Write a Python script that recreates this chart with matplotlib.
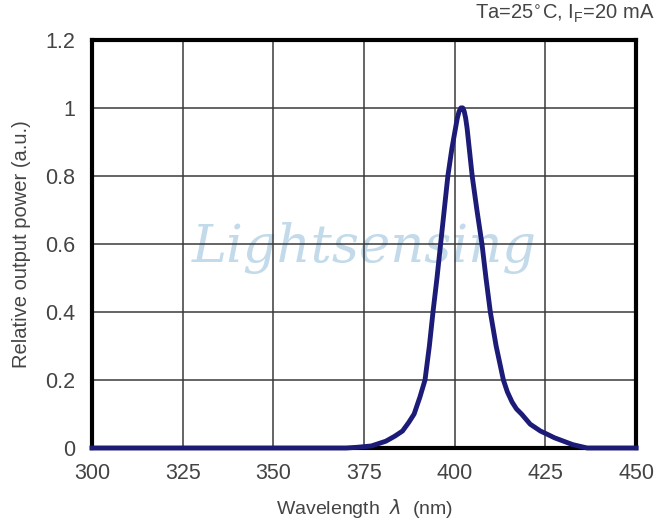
import numpy as np
import matplotlib.pyplot as plt

# spectrum (wavelength in nm, relative power)
wavelength = [300, 340, 370, 373, 377, 381, 383.5, 385.6, 387.3, 388.8, 390.4, 391.8,
              393.0, 394.0, 395.1, 396.1, 397.1, 398.1, 399.2, 400.2, 400.7, 401.2, 401.7,
              402.2, 402.6, 403.0, 403.4, 404.1, 404.8, 406.1, 407.5, 408.6, 409.8, 411.4,
              412.4, 413.4, 414.5, 415.8, 417.0, 418.4, 420.8, 423.6, 425.0, 427.5, 430.0,
              432.5, 436.5, 440, 450]
power = [0, 0, 0, 0.002, 0.006, 0.02, 0.035, 0.05, 0.075, 0.10, 0.15, 0.20,
         0.30, 0.40, 0.50, 0.60, 0.70, 0.80, 0.88, 0.94, 0.97, 0.99, 1.0,
         1.0, 0.99, 0.97, 0.94, 0.87, 0.80, 0.70, 0.60, 0.50, 0.40, 0.30,
         0.25, 0.20, 0.165, 0.135, 0.115, 0.10, 0.07, 0.05, 0.043, 0.03, 0.02,
         0.01, 0.0, 0, 0]

xticks = [300, 325, 350, 375, 400, 425, 450]
yticks = [0, 0.2, 0.4, 0.6, 0.8, 1.0, 1.2]
ytick_labels = ['0', '0.2', '0.4', '0.6', '0.8', '1', '1.2']

plt.rcParams['font.family'] = ['Liberation Sans', 'DejaVu Sans']

fig = plt.figure(figsize=(6.58, 5.28), dpi=100)
ax = fig.add_axes([0.1398, 0.1515, 0.827, 0.773])

ax.plot(wavelength, power, color='#1c1c78', lw=3.5, zorder=3, clip_on=False,
        solid_joinstyle='round')

ax.set_xlim(300, 450)
ax.set_ylim(0, 1.2)
ax.set_xticks(xticks)
ax.set_yticks(yticks)
ax.set_yticklabels(ytick_labels)
ax.grid(True, color='#3a3a3a', lw=1.1)
ax.tick_params(length=0, labelsize=15.5, labelcolor='#444444')
ax.tick_params(axis='x', pad=11)
ax.tick_params(axis='y', pad=12)
for s in ax.spines.values():
    s.set_linewidth(3)
    s.set_color('black')

ax.set_xlabel('Wavelength  $\\lambda$  (nm)', fontsize=14, color='#444444', labelpad=9)
ax.set_ylabel('Relative output power (a.u.)', fontsize=14.5, color='#444444', labelpad=10)

fig.text(0.995, 0.975, 'Ta=25$^{\\circ}$C, I$_{\\mathregular{F}}$=20 mA', ha='right', va='center',
         fontsize=14.5, color='#444444')

# watermark
ax.text(0.5, 0.49, 'Lightsensing', transform=ax.transAxes, ha='center', va='center',
        fontsize=38, family='DejaVu Serif', style='italic', color='#a9cbe0', alpha=0.7, zorder=1)

fig.savefig('out.png', dpi=100)
